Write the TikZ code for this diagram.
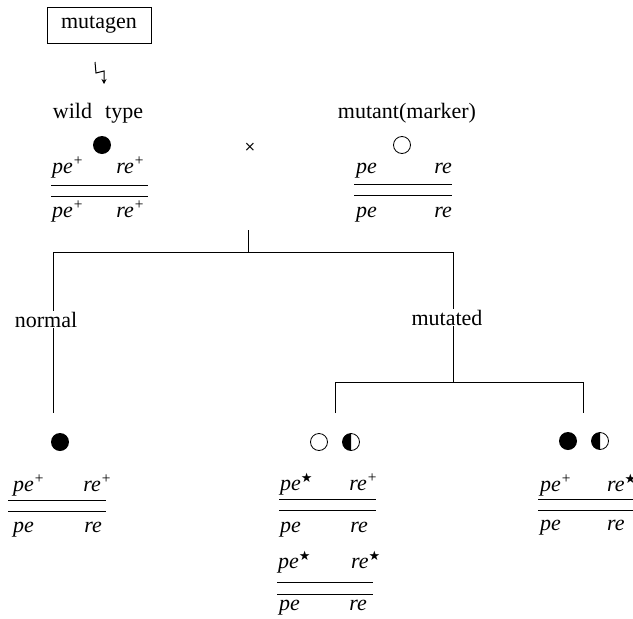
\documentclass[tikz,border=0pt]{standalone}
\usepackage{fontspec}
\setmainfont{Liberation Serif}
\newfontfamily\symfont{DejaVu Sans}
\usetikzlibrary{arrows.meta}
\newcommand\bigtext{\fontsize{22}{26}\selectfont}
\newcommand\plusup{\textsuperscript{+}}
\newcommand\starup{\textsuperscript{\symfont\fontsize{13}{13}\selectfont ★}}
\tikzset{
  lbl/.style={font=\bigtext, inner sep=1pt},
  gl/.style={font=\bigtext\itshape, inner sep=0pt, anchor=base west},
  gr/.style={font=\bigtext\itshape, inner sep=0pt, anchor=base east},
  chrom/.style={line width=0.9pt},
  tree/.style={line width=0.9pt},
  dot/.style={line width=0.8pt}
}
\begin{document}
\begin{tikzpicture}[x=1pt,y=-1pt]
\useasboundingbox (0,0) rectangle (633,619);

% mutagen and its zigzag arrow
\node[lbl, draw, line width=0.9pt, minimum width=104pt, minimum height=36pt] (mutagen) at (99,25) {mutagen};
\coordinate (zz1) at (95,62);
\coordinate (zz2) at (96,73);
\coordinate (zz3) at (104,71);
\coordinate (zz4) at (104,84);
\draw[line width=1pt, -{Stealth[length=5pt,width=5pt]}] (zz1) -- (zz2) -- (zz3) -- (zz4);

% parents
\node[lbl, anchor=base] (wt) at (98,118) {wild\hspace{0.6em}type};
\node[lbl, anchor=base] (mut) at (407,118) {mutant(marker)};
\fill (102,145) circle (9);
\draw[dot] (402,145) circle (8.5);
\node[font=\symfont\fontsize{14}{14}\selectfont, inner sep=0pt] (cross) at (250,147) {×};

% wild type genotype
\node[gl] (wpa) at (52,173) {pe\plusup};
\node[gr] (wra) at (145,173) {re\plusup};
\draw[chrom] (51,185) -- (148,185);
\draw[chrom] (51,196) -- (148,196);
\node[gl] (wpb) at (52,217) {pe\plusup};
\node[gr] (wrb) at (145,217) {re\plusup};

% marker genotype
\node[gl] (mpa) at (356,173) {pe};
\node[gr] (mra) at (452,173) {re};
\draw[chrom] (354,184) -- (452,184);
\draw[chrom] (354,195) -- (452,195);
\node[gl] (mpb) at (356,217) {pe};
\node[gr] (mrb) at (452,217) {re};

% offspring tree
\coordinate (stem) at (248,230);
\coordinate (fork) at (248,252);
\coordinate (lft) at (53,252);
\coordinate (rgt) at (453,252);
\node[lbl, anchor=base] (normal) at (46,327) {normal};
\node[lbl, anchor=base] (mutated) at (447,325) {mutated};
\coordinate (nleaf) at (53,413);
\coordinate (mfork) at (453,382);
\coordinate (ma) at (335,413);
\coordinate (mb) at (335,382);
\coordinate (mc) at (583,382);
\coordinate (md) at (583,413);
\draw[tree] (stem) -- (fork);
\draw[tree] (lft |- normal.north) -- (lft) -- (rgt) -- (rgt |- mutated.north);
\draw[tree] (lft |- normal.south) -- (nleaf);
\draw[tree] (rgt |- mutated.south) -- (mfork);
\draw[tree] (ma) -- (mb) -- (mc) -- (md);

% normal offspring
\fill (60,442) circle (9);
\node[gl] (npa) at (13,491) {pe\plusup};
\node[gr] (nra) at (112,491) {re\plusup};
\draw[chrom] (8,500) -- (106,500);
\draw[chrom] (8,511) -- (106,511);
\node[gl] (npb) at (13,532) {pe};
\node[gr] (nrb) at (102,532) {re};

% mutated offspring, marker side
\draw[dot] (319,442) circle (8.5);
\draw[dot] (351,442) circle (8.5);
\fill (351,442) ++(0,-8.5) arc (-90:-270:8.5) -- cycle;
\node[gl] (apa) at (280,490) {pe\starup};
\node[gr] (ara) at (378,490) {re\plusup};
\draw[chrom] (279,499) -- (376,499);
\draw[chrom] (279,510) -- (376,510);
\node[gl] (apb) at (280,532) {pe};
\node[gr] (arb) at (368,532) {re};

\node[gl] (bpa) at (278,568) {pe\starup};
\node[gr] (bra) at (381,568) {re\starup};
\draw[chrom] (277,582) -- (373,582);
\draw[chrom] (277,594) -- (373,594);
\node[gl] (bpb) at (279,610) {pe};
\node[gr] (brb) at (367,610) {re};

% mutated offspring, wild type side
\fill (568,441) circle (9);
\draw[dot] (600,441) circle (8.5);
\fill (600,441) ++(0,-8.5) arc (-90:-270:8.5) -- cycle;
\node[gl] (cpa) at (540,491) {pe\plusup};
\node[gl] (cra) at (607,491) {re\starup};
\draw[chrom] (538,499) -- (640,499);
\draw[chrom] (538,510) -- (640,510);
\node[gl] (cpb) at (540,530) {pe};
\node[gl] (crb) at (607,530) {re};
\end{tikzpicture}
\end{document}
